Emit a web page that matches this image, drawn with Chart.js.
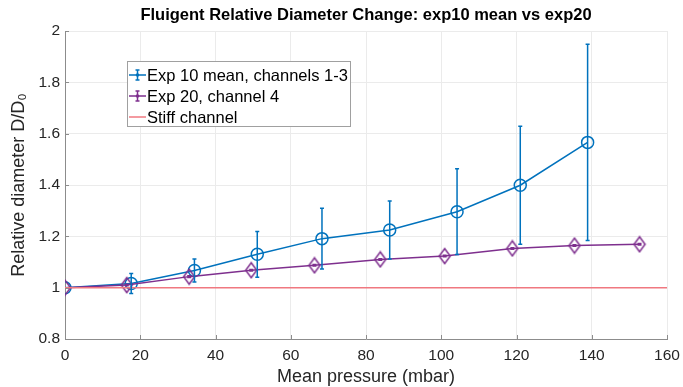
<!DOCTYPE html>
<html>
<head>
<meta charset="utf-8">
<title>Fluigent Relative Diameter Change</title>
<script src="https://cdn.jsdelivr.net/npm/chart.js@4"></script>
<style>
  html, body { margin: 0; padding: 0; background: #fff; }
  canvas { display: block; }
</style>
</head>
<body>
<canvas id="myChart" width="683" height="387"></canvas>
<script>
// exp10 mean, channels 1-3
var exp10Pressure = [0, 17.6, 34.4, 51.1, 68.3, 86.3, 104.2, 121.0, 138.9];
var exp10Diameter = [1, 1.016, 1.067, 1.130, 1.191, 1.225, 1.296, 1.399, 1.566];
var exp10Error = [0, 0.039, 0.045, 0.089, 0.118, 0.113, 0.167, 0.230, 0.382];

// exp20, channel 4
var exp20Pressure = [0, 16.4, 33.0, 49.5, 66.3, 83.8, 100.9, 118.9, 135.4, 152.7];
var exp20Diameter = [1, 1.010, 1.043, 1.068, 1.087, 1.110, 1.123, 1.153, 1.164, 1.169];
var exp20Error = [0, 0.003, 0.003, 0.003, 0.003, 0.003, 0.003, 0.003, 0.003, 0.003];

// stiff reference
var stiffPressure = [0, 160];
var stiffDiameter = [1, 1];

var xTicks = [0, 20, 40, 60, 80, 100, 120, 140, 160];
var yTicks = [0.8, 1, 1.2, 1.4, 1.6, 1.8, 2];

var TITLE = 'Fluigent Relative Diameter Change: exp10 mean vs exp20';
var BLUE = '#0072BD';
var PURPLE = '#7E2F8E';
var RED = '#F07880';
var FONT = '"Liberation Sans", Arial, sans-serif';

function toPoints(xs, ys) {
    return xs.map(function (x, i) { return { x: x, y: ys[i] }; });
}

// MATLAB-like diamond marker (taller than wide)
function diamondMarker(color) {
    var c = document.createElement('canvas');
    c.width = 14; c.height = 18;
    var g = c.getContext('2d');
    g.strokeStyle = color;
    g.lineWidth = 1.5;
    g.beginPath();
    g.moveTo(7, 1.5); g.lineTo(12.5, 9); g.lineTo(7, 16.5); g.lineTo(1.5, 9);
    g.closePath();
    g.stroke();
    return c;
}

var errorBars = {
    id: 'errorBars',
    afterDatasetsDraw: function (chart) {
        var ctx = chart.ctx;
        var xs = chart.scales.x, ys = chart.scales.y;
        chart.data.datasets.forEach(function (ds) {
            if (!ds.errors) return;
            ctx.save();
            ctx.strokeStyle = ds.borderColor;
            ctx.lineWidth = 1.5;
            ds.data.forEach(function (p, i) {
                var e = ds.errors[i];
                if (!e) return;
                var px = xs.getPixelForValue(p.x);
                var top = ys.getPixelForValue(p.y + e);
                var bot = ys.getPixelForValue(p.y - e);
                ctx.beginPath();
                ctx.moveTo(px, top); ctx.lineTo(px, bot);
                ctx.moveTo(px - 2, top); ctx.lineTo(px + 2, top);
                ctx.moveTo(px - 2, bot); ctx.lineTo(px + 2, bot);
                ctx.stroke();
            });
            ctx.restore();
        });
    }
};

var axisTicks = {
    id: 'axisTicks',
    afterDraw: function (chart) {
        var ctx = chart.ctx, a = chart.chartArea;
        var xs = chart.scales.x, ys = chart.scales.y;
        ctx.save();

        // title, centred over the axes like MATLAB does
        ctx.fillStyle = '#000';
        ctx.font = 'bold 16.5px ' + FONT;
        ctx.textAlign = 'center';
        ctx.textBaseline = 'middle';
        ctx.fillText(TITLE, (a.left + a.right) / 2, 15);
        ctx.textAlign = 'left';

        ctx.strokeStyle = '#8c8c8c';
        ctx.lineWidth = 1;
        ctx.beginPath();
        xTicks.forEach(function (t) {
            var px = Math.round(xs.getPixelForValue(t)) + 0.5;
            ctx.moveTo(px, a.bottom); ctx.lineTo(px, a.bottom - 4);
        });
        yTicks.forEach(function (t) {
            var py = Math.round(ys.getPixelForValue(t)) + 0.5;
            ctx.moveTo(a.left, py); ctx.lineTo(a.left + 4, py);
        });
        ctx.stroke();

        // legend box inside the axes
        var lx = 127.5, ly = 61.5, lw = 223, lh = 65;
        ctx.fillStyle = '#fff';
        ctx.fillRect(lx, ly, lw, lh);
        ctx.strokeStyle = '#a0a0a0';
        ctx.strokeRect(lx, ly, lw, lh);
        var rows = [
            { label: 'Exp 10 mean, channels 1-3', color: BLUE, bar: true },
            { label: 'Exp 20, channel 4', color: PURPLE, bar: true },
            { label: 'Stiff channel', color: RED, bar: false }
        ];
        ctx.font = '16.5px ' + FONT;
        rows.forEach(function (r, i) {
            var y = 75 + i * 21;
            ctx.strokeStyle = r.color;
            ctx.lineWidth = 1.5;
            ctx.beginPath();
            ctx.moveTo(129, y); ctx.lineTo(146, y);
            if (r.bar) {
                ctx.moveTo(137.5, y - 5); ctx.lineTo(137.5, y + 5);
                ctx.moveTo(135.5, y - 5); ctx.lineTo(139.5, y - 5);
                ctx.moveTo(135.5, y + 5); ctx.lineTo(139.5, y + 5);
            }
            ctx.stroke();
            if (r.bar) {
                ctx.fillStyle = r.color;
                ctx.beginPath();
                ctx.arc(137.5, y, 1.8, 0, Math.PI * 2);
                ctx.fill();
            }
            ctx.fillStyle = '#000';
            ctx.fillText(r.label, 147, y + 1);
        });
        ctx.restore();
    }
};

var ctx = document.getElementById('myChart').getContext('2d');
var myChart = new Chart(ctx, {
    type: 'scatter',
    data: {
        datasets: [{
            label: 'Stiff channel',
            data: toPoints(stiffPressure, stiffDiameter),
            showLine: true,
            borderColor: RED,
            borderWidth: 1.5,
            pointRadius: 0,
            order: 0
        }, {
            label: 'Exp 20, channel 4',
            data: toPoints(exp20Pressure, exp20Diameter),
            errors: exp20Error,
            showLine: true,
            borderColor: PURPLE,
            borderWidth: 1.5,
            pointStyle: diamondMarker(PURPLE),
            pointRadius: 7,
            order: 1
        }, {
            label: 'Exp 10 mean, channels 1-3',
            data: toPoints(exp10Pressure, exp10Diameter),
            errors: exp10Error,
            showLine: true,
            borderColor: BLUE,
            borderWidth: 1.5,
            backgroundColor: 'rgba(0,0,0,0)',
            pointStyle: 'circle',
            pointRadius: 6,
            pointBorderWidth: 1.5,
            order: 2
        }]
    },
    options: {
        responsive: false,
        animation: false,
        layout: { padding: { left: 0, right: 16, top: 31, bottom: 0 } },
        plugins: {
            legend: { display: false },
            tooltip: { enabled: false },
            title: { display: false }
        },
        scales: {
            x: {
                type: 'linear',
                min: 0,
                max: 160,
                afterBuildTicks: function (s) { s.ticks = xTicks.map(function (v) { return { value: v }; }); },
                afterFit: function (s) { s.height = 48; s.paddingLeft = 0; s.paddingRight = 0; },
                grid: { color: '#ebebeb', drawTicks: false },
                border: { color: '#8c8c8c' },
                ticks: { color: '#262626', font: { family: FONT, size: 15.5 }, padding: 7 },
                title: {
                    display: true,
                    text: 'Mean pressure (mbar)',
                    color: '#262626',
                    font: { family: FONT, size: 18, lineHeight: 1.1 },
                    padding: { top: 2, bottom: 0 }
                }
            },
            y: {
                min: 0.8,
                max: 2,
                afterBuildTicks: function (s) { s.ticks = yTicks.map(function (v) { return { value: v }; }); },
                afterFit: function (s) { s.width = 65; s.paddingTop = 0; s.paddingBottom = 0; },
                grid: { color: '#ebebeb', drawTicks: false },
                border: { color: '#8c8c8c' },
                ticks: {
                    color: '#262626',
                    font: { family: FONT, size: 15.5 },
                    padding: 5,
                    callback: function (v) { return String(Math.round(v * 10) / 10); }
                },
                title: {
                    display: true,
                    text: 'Relative diameter D/D\u2080',
                    color: '#262626',
                    font: { family: FONT, size: 18 },
                    padding: { top: 8, bottom: 0 }
                }
            }
        }
    },
    plugins: [errorBars, axisTicks]
});
</script>
</body>
</html>
